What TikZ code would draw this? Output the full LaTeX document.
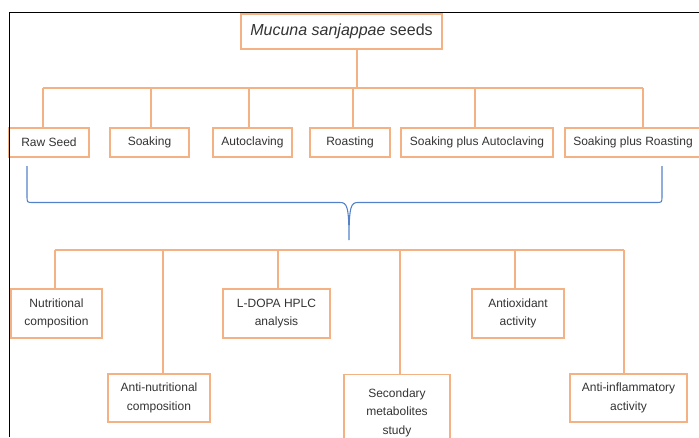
\documentclass[tikz,border=0pt]{standalone}
\usepackage{fontspec}
\setmainfont{Liberation Sans}
\definecolor{boxorange}{RGB}{244,177,131}
\definecolor{braceblue}{RGB}{84,130,202}
\begin{document}
\begin{tikzpicture}[x=1pt, y=-1pt,
	box/.style={draw=boxorange, line width=1.3pt, inner sep=0pt, align=center,
		font=\fontsize{12}{18.5}\selectfont, text=black!80},
	link/.style={draw=boxorange, line width=1.3pt},
	brace/.style={draw=braceblue, line width=1.1pt}]
		\useasboundingbox (0,0) rectangle (699,437);
		\clip (0,0) rectangle (699,437);
		% seeds and treatments
		\node[box, minimum width=201pt, minimum height=35pt, font=\fontsize{16}{19}\selectfont] (seeds) at (341.5,31.5) {\textit{Mucuna sanjappae} seeds};
		\node[box, minimum width=80pt, minimum height=29pt] (raw) at (49,142.5) {Raw Seed};
		\node[box, minimum width=79pt, minimum height=29pt] (soak) at (149.5,142.5) {Soaking};
		\node[box, minimum width=79pt, minimum height=29pt] (auto) at (252.5,142.5) {Autoclaving};
		\node[box, minimum width=80pt, minimum height=29pt] (roast) at (350,142.5) {Roasting};
		\node[box, minimum width=152pt, minimum height=29pt] (soakauto) at (477,142.5) {Soaking plus Autoclaving};
		\node[box, minimum width=136pt, minimum height=29pt] (soakroast) at (633,142.5) {Soaking plus Roasting};
		\coordinate (top) at (357,88);
		\coordinate (t1) at (43,88);
		\coordinate (t2) at (151,88);
		\coordinate (t3) at (249,88);
		\coordinate (t4) at (353,88);
		\coordinate (t5) at (475,88);
		\coordinate (t6) at (643,88);
		\draw[link] (seeds.south -| top) -- (top);
		\draw[link] (t1) -- (t6);
		\draw[link] (t1) -- (t1 |- raw.north);
		\draw[link] (t2) -- (t2 |- soak.north);
		\draw[link] (t3) -- (t3 |- auto.north);
		\draw[link] (t4) -- (t4 |- roast.north);
		\draw[link] (t5) -- (t5 |- soakauto.north);
		\draw[link] (t6) -- (t6 |- soakroast.north);
		% brace
		\draw[brace] (27,166) -- (27,196) .. controls (27,202.5) .. (33,202.5) -- (340,202.5)
			.. controls (347,202.5) and (349,206) .. (349,240)
			.. controls (349,206) and (351,202.5) .. (358,202.5) -- (656,202.5)
			.. controls (662,202.5) .. (662,196) -- (662,166);
		% studies
		\node[box, minimum width=91pt, minimum height=49pt] (nutri) at (56.5,313.5) {Nutritional\\composition};
		\node[box, minimum width=102pt, minimum height=48pt] (antinutri) at (159,398) {Anti-nutritional\\composition};
		\node[box, minimum width=107pt, minimum height=49pt] (ldopa) at (276.5,313.5) {L-DOPA HPLC\\analysis};
		\node[box, minimum width=106pt, minimum height=76pt, anchor=north] (second) at (397,374) {Secondary\\metabolites\\study};
		\node[box, minimum width=92pt, minimum height=49pt] (antiox) at (518,313.5) {Antioxidant\\activity};
		\node[box, minimum width=117pt, minimum height=48pt] (antiinf) at (628.5,398) {Anti-inflammatory\\activity};
		\coordinate (b1) at (55,250);
		\coordinate (b2) at (163,250);
		\coordinate (b3) at (278,250);
		\coordinate (b4) at (400,250);
		\coordinate (b5) at (515,250);
		\coordinate (b6) at (624,250);
		\draw[link] (b1) -- (b6);
		\draw[link] (b1) -- (b1 |- nutri.north);
		\draw[link] (b2) -- (b2 |- antinutri.north);
		\draw[link] (b3) -- (b3 |- ldopa.north);
		\draw[link] (b4) -- (b4 |- second.north);
		\draw[link] (b5) -- (b5 |- antiox.north);
		\draw[link] (b6) -- (b6 |- antiinf.north);
		% frame
		\draw[black, line width=1pt] (699,12) -- (9,12) -- (9,437);
\end{tikzpicture}
\end{document}
